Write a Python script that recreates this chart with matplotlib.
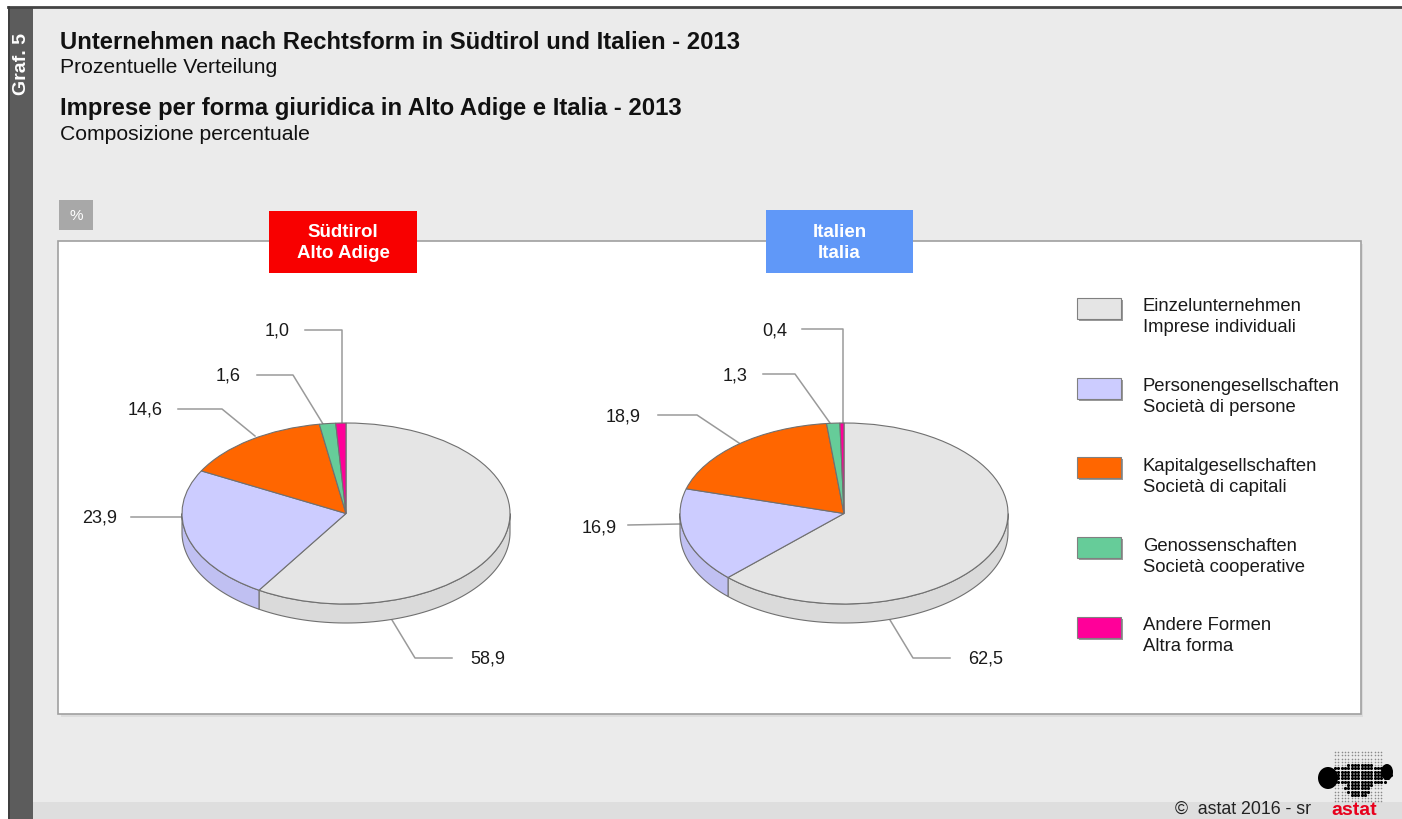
import matplotlib
matplotlib.use("Agg")
import matplotlib.pyplot as plt
from matplotlib.patches import Rectangle, Polygon, Ellipse
import numpy as np

plt.rcParams["font.family"] = ["Liberation Sans", "DejaVu Sans"]

# ---- data ----
categories_de = ["Einzelunternehmen", "Personengesellschaften", "Kapitalgesellschaften",
                 "Genossenschaften", "Andere Formen"]
categories_it = ["Imprese individuali", "Società di persone", "Società di capitali",
                 "Società cooperative", "Altra forma"]
suedtirol = [58.9, 23.9, 14.6, 1.6, 1.0]
italien = [62.5, 16.9, 18.9, 1.3, 0.4]

colors = ["#e5e5e5", "#ccccff", "#ff6600", "#66cc99", "#ff0099"]
side_colors = ["#dadada", "#c0c0f2", "#ea5e00", "#5cba8b", "#e2008a"]

# ---- layout (pixels) ----
W, H = 1402, 820
RX, RY, DEPTH = 164, 90.5, 19
EDGE = "#707070"
LEAD = "#9a9a9a"

# label layout per slice: (text x, text y, ha, leader path)
layout_left = [
    (470, 659, "left", [(392, 621), (415, 659), (452, 659)]),
    (117, 518, "right", [(131, 518), (183, 518)]),
    (163, 410, "right", [(178, 410), (222, 410), (255, 437)]),
    (241, 376, "right", [(257, 376), (293, 376), (323, 425)]),
    (290, 331, "right", [(305, 331), (342, 331), (342, 424)]),
]
layout_right = [
    (968, 659, "left", [(890, 621), (913, 659), (950, 659)]),
    (617, 528, "right", [(628, 526), (680, 525)]),
    (641, 417, "right", [(658, 416), (697, 416), (739, 444)]),
    (748, 376, "right", [(763, 375), (795, 375), (830, 424)]),
    (787, 331, "right", [(802, 330), (843, 330), (843, 424)]),
]

fig = plt.figure(figsize=(W / 100, H / 100), dpi=100)
fig.patch.set_facecolor("white")

bg = fig.add_axes([0, 0, 1, 1], zorder=0)
bg.set_xlim(0, W)
bg.set_ylim(H, 0)
bg.axis("off")

# frame, stripe, footer band
bg.add_patch(Rectangle((9, 8), W - 9, H - 8, facecolor="#ebebeb", edgecolor="none"))
bg.add_patch(Rectangle((9, 803), W - 9, 20, facecolor="#dedede", edgecolor="none"))
bg.plot([8, W], [8, 8], color="#444444", lw=2)
bg.add_patch(Rectangle((8, 8), 25, H - 8, facecolor="#5c5c5c", edgecolor="none"))
bg.plot([8.5, 8.5], [8, H], color="#3a3a3a", lw=1.2)
bg.text(21, 64, "Graf. 5", rotation=90, color="white", fontsize=14, fontweight="bold",
        ha="center", va="center")

# titles
bg.text(60, 49, "Unternehmen nach Rechtsform in Südtirol und Italien - 2013",
        fontsize=17.2, fontweight="bold", color="#111111", va="baseline")
bg.text(60, 73, "Prozentuelle Verteilung", fontsize=15.2, color="#111111", va="baseline")
bg.text(60, 115, "Imprese per forma giuridica in Alto Adige e Italia - 2013",
        fontsize=17.2, fontweight="bold", color="#111111", va="baseline")
bg.text(60, 140, "Composizione percentuale", fontsize=15.2, color="#111111", va="baseline")

# plot box
bg.add_patch(Rectangle((61, 245), 1302, 473, facecolor="#dcdcdc", edgecolor="none"))
bg.add_patch(Rectangle((58, 242), 1303, 473, facecolor="white", edgecolor="#a0a0a0", lw=1.2))

# % tag
bg.add_patch(Rectangle((59, 201), 34, 30, facecolor="#a8a8a8", edgecolor="none"))
bg.text(76, 216, "%", color="white", fontsize=11, ha="center", va="center")

# region tags
bg.add_patch(Rectangle((269, 212), 148, 62, facecolor="#f80000", edgecolor="none"))
bg.text(343, 243, "Südtirol\nAlto Adige", color="white", fontsize=13.5, fontweight="bold",
        ha="center", va="center", linespacing=1.3)
bg.add_patch(Rectangle((766, 211), 147, 63, facecolor="#6098f8", edgecolor="none"))
bg.text(839.5, 243, "Italien\nItalia", color="white", fontsize=13.5, fontweight="bold",
        ha="center", va="center", linespacing=1.3)


def draw_pie(cx, cy, values, layout):
    ax = fig.add_axes([(cx - RX) / W, (H - (cy + RY + DEPTH)) / H,
                       2 * RX / W, (2 * RY + DEPTH) / H], zorder=2)
    wedges, _ = ax.pie(values, colors=colors, startangle=90, counterclock=False,
                       radius=1, wedgeprops=dict(edgecolor=EDGE, linewidth=0.8))
    d = DEPTH / RY
    for w, sc in zip(wedges, side_colors):
        w.set_clip_on(False)
        w.set_zorder(3)
        # front (visible) part of the rim for this slice
        for k in (-360, 0, 360):
            a = max(w.theta1, -180 + k)
            b = min(w.theta2, k)
            if b > a:
                t = np.radians(np.linspace(a, b, 80))
                top = np.column_stack([np.cos(t), np.sin(t)])
                bot = np.column_stack([np.cos(t), np.sin(t) - d])[::-1]
                ax.add_patch(Polygon(np.vstack([top, bot]), closed=True, facecolor=sc,
                                     edgecolor=EDGE, lw=0.8, zorder=2, clip_on=False))
    ax.set_aspect("auto")
    ax.set_xlim(-1, 1)
    ax.set_ylim(-1 - d, 1)
    ax.axis("off")

    for v, (tx, ty, ha, path) in zip(values, layout):
        xs, ys = zip(*path)
        bg.plot(xs, ys, color=LEAD, lw=1.1)
        bg.text(tx, ty, f"{v:.1f}".replace(".", ","), fontsize=13, color="#1a1a1a",
                ha=ha, va="center")


draw_pie(346, 514.5, suedtirol, layout_left)
draw_pie(844, 514.5, italien, layout_right)

# legend
for i, (de, it, c) in enumerate(zip(categories_de, categories_it, colors)):
    y0 = 299 + i * 79.7
    bg.add_patch(Rectangle((1079, y0 + 2), 44, 21, facecolor="#9a9a9a", edgecolor="none"))
    bg.add_patch(Rectangle((1077, y0), 44, 21, facecolor=c, edgecolor="#808080", lw=0.8))
    bg.text(1143, y0 + 8, de, fontsize=13.3, color="#1a1a1a", va="center")
    bg.text(1143, y0 + 29, it, fontsize=13.3, color="#1a1a1a", va="center")

# footer
bg.text(1175, 818, "©  astat 2016 - sr", fontsize=12.8, color="#222222", va="bottom")
bg.text(1331, 819, "astat", fontsize=14, fontweight="bold", color="#e8001c", va="bottom")

# logo dot matrix
gx, gy = np.meshgrid(np.arange(1322, 1393, 3.3), np.arange(753, 804, 3.3))
gx, gy = gx.ravel(), gy.ravel()
blob = (((gx - 1360) / 32) ** 2 + ((gy - 776) / 11) ** 2 <= 1) | \
       (((gx - 1358) / 13) ** 2 + ((gy - 789) / 9) ** 2 <= 1)
light = (~blob) & (gx >= 1332) & (gx <= 1382)
bg.scatter(gx[light], gy[light], s=1.3, color="#8a8a8a", linewidths=0)
bg.scatter(gx[blob], gy[blob], s=5, color="black", linewidths=0)
bg.add_patch(Ellipse((1328, 779), 20, 22, facecolor="black", edgecolor="none"))
bg.add_patch(Ellipse((1387, 773), 12, 16, facecolor="black", edgecolor="none"))

fig.savefig("out.png", dpi=100)
